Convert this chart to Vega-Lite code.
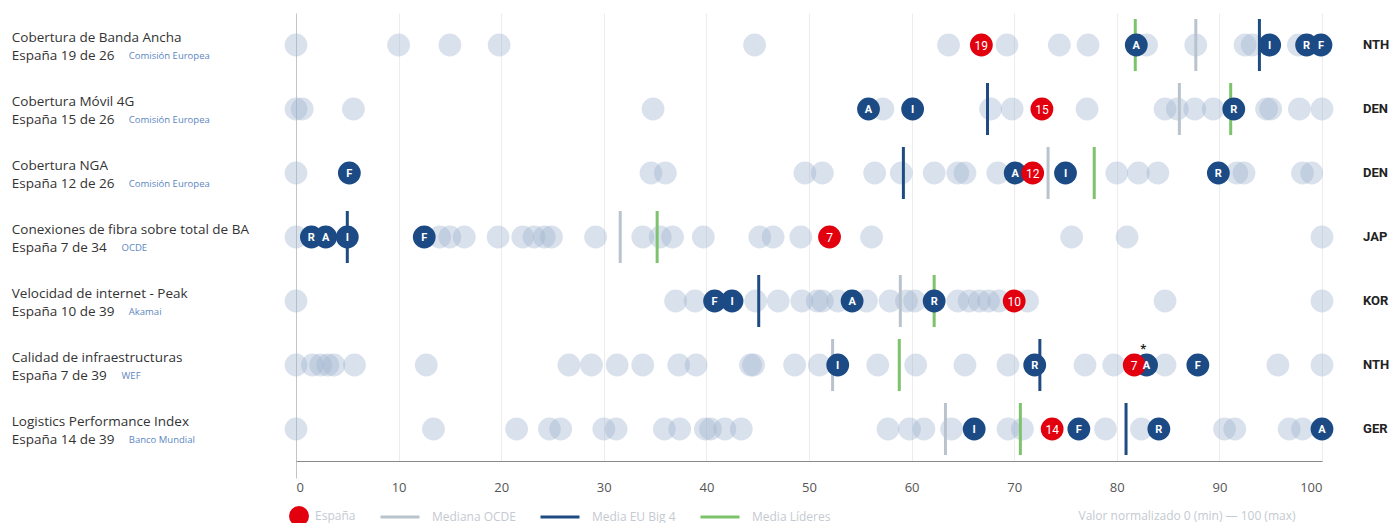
{
  "$schema": "https://vega.github.io/schema/vega-lite/v6.json",
  "width": 1026,
  "height": 448,
  "autosize": {"type": "none"},
  "padding": {"left": 296, "top": 13, "right": 73, "bottom": 62},
  "background": "white",
  "config": {"view": {"stroke": null}, "font": "Open Sans"},
  "datasets": {
    "dots": [
      {"r":"R1","v":0,"g":"o"},{"r":"R1","v":10,"g":"o"},{"r":"R1","v":15,"g":"o"},{"r":"R1","v":19.8,"g":"o"},{"r":"R1","v":44.7,"g":"o"},{"r":"R1","v":63.6,"g":"o"},{"r":"R1","v":69.3,"g":"o"},{"r":"R1","v":74.4,"g":"o"},{"r":"R1","v":77.2,"g":"o"},{"r":"R1","v":82.9,"g":"o"},{"r":"R1","v":87.7,"g":"o"},{"r":"R1","v":92.5,"g":"o"},{"r":"R1","v":93.2,"g":"o"},{"r":"R1","v":97.7,"g":"o"},
      {"r":"R1","v":81.9,"g":"b","t":"A"},{"r":"R1","v":94.9,"g":"b","t":"I"},{"r":"R1","v":98.5,"g":"b","t":"R"},{"r":"R1","v":99.9,"g":"b","t":"F"},{"r":"R1","v":66.8,"g":"e","t":"19"},
      {"r":"R2","v":0,"g":"o"},{"r":"R2","v":0.6,"g":"o"},{"r":"R2","v":5.6,"g":"o"},{"r":"R2","v":34.8,"g":"o"},{"r":"R2","v":57.2,"g":"o"},{"r":"R2","v":67.7,"g":"o"},{"r":"R2","v":69.8,"g":"o"},{"r":"R2","v":77.1,"g":"o"},{"r":"R2","v":84.7,"g":"o"},{"r":"R2","v":85.9,"g":"o"},{"r":"R2","v":87.6,"g":"o"},{"r":"R2","v":89.4,"g":"o"},{"r":"R2","v":94.6,"g":"o"},{"r":"R2","v":95.0,"g":"o"},{"r":"R2","v":97.8,"g":"o"},{"r":"R2","v":100,"g":"o"},
      {"r":"R2","v":55.8,"g":"b","t":"A"},{"r":"R2","v":60.1,"g":"b","t":"I"},{"r":"R2","v":91.4,"g":"b","t":"R"},{"r":"R2","v":72.7,"g":"e","t":"15"},
      {"r":"R3","v":0,"g":"o"},{"r":"R3","v":34.6,"g":"o"},{"r":"R3","v":36.0,"g":"o"},{"r":"R3","v":49.6,"g":"o"},{"r":"R3","v":51.3,"g":"o"},{"r":"R3","v":56.4,"g":"o"},{"r":"R3","v":59.0,"g":"o"},{"r":"R3","v":62.2,"g":"o"},{"r":"R3","v":64.5,"g":"o"},{"r":"R3","v":65.2,"g":"o"},{"r":"R3","v":68.4,"g":"o"},{"r":"R3","v":80.0,"g":"o"},{"r":"R3","v":82.1,"g":"o"},{"r":"R3","v":84.0,"g":"o"},{"r":"R3","v":91.7,"g":"o"},{"r":"R3","v":92.4,"g":"o"},{"r":"R3","v":98.1,"g":"o"},{"r":"R3","v":99.0,"g":"o"},
      {"r":"R3","v":5.2,"g":"b","t":"F"},{"r":"R3","v":70.1,"g":"b","t":"A"},{"r":"R3","v":75.0,"g":"b","t":"I"},{"r":"R3","v":89.9,"g":"b","t":"R"},{"r":"R3","v":71.8,"g":"e","t":"12"},
      {"r":"R4","v":0,"g":"o"},{"r":"R4","v":14.0,"g":"o"},{"r":"R4","v":15.0,"g":"o"},{"r":"R4","v":16.4,"g":"o"},{"r":"R4","v":19.7,"g":"o"},{"r":"R4","v":22.1,"g":"o"},{"r":"R4","v":23.2,"g":"o"},{"r":"R4","v":24.2,"g":"o"},{"r":"R4","v":24.9,"g":"o"},{"r":"R4","v":29.2,"g":"o"},{"r":"R4","v":33.8,"g":"o"},{"r":"R4","v":35.5,"g":"o"},{"r":"R4","v":36.7,"g":"o"},{"r":"R4","v":39.7,"g":"o"},{"r":"R4","v":45.2,"g":"o"},{"r":"R4","v":46.5,"g":"o"},{"r":"R4","v":49.2,"g":"o"},{"r":"R4","v":56.1,"g":"o"},{"r":"R4","v":75.6,"g":"o"},{"r":"R4","v":81.0,"g":"o"},{"r":"R4","v":100,"g":"o"},
      {"r":"R4","v":1.5,"g":"b","t":"R"},{"r":"R4","v":2.9,"g":"b","t":"A"},{"r":"R4","v":5.0,"g":"b","t":"I"},{"r":"R4","v":12.5,"g":"b","t":"F"},{"r":"R4","v":52.0,"g":"e","t":"7"},
      {"r":"R5","v":0,"g":"o"},{"r":"R5","v":37.0,"g":"o"},{"r":"R5","v":38.9,"g":"o"},{"r":"R5","v":44.8,"g":"o"},{"r":"R5","v":47.0,"g":"o"},{"r":"R5","v":49.3,"g":"o"},{"r":"R5","v":50.8,"g":"o"},{"r":"R5","v":51.3,"g":"o"},{"r":"R5","v":52.8,"g":"o"},{"r":"R5","v":55.6,"g":"o"},{"r":"R5","v":57.9,"g":"o"},{"r":"R5","v":59.5,"g":"o"},{"r":"R5","v":60.3,"g":"o"},{"r":"R5","v":64.5,"g":"o"},{"r":"R5","v":65.6,"g":"o"},{"r":"R5","v":66.6,"g":"o"},{"r":"R5","v":67.5,"g":"o"},{"r":"R5","v":68.5,"g":"o"},{"r":"R5","v":71.3,"g":"o"},{"r":"R5","v":84.7,"g":"o"},{"r":"R5","v":100,"g":"o"},
      {"r":"R5","v":40.8,"g":"b","t":"F"},{"r":"R5","v":42.5,"g":"b","t":"I"},{"r":"R5","v":54.2,"g":"b","t":"A"},{"r":"R5","v":62.2,"g":"b","t":"R"},{"r":"R5","v":70.0,"g":"e","t":"10"},
      {"r":"R6","v":0,"g":"o"},{"r":"R6","v":1.6,"g":"o"},{"r":"R6","v":2.4,"g":"o"},{"r":"R6","v":3.1,"g":"o"},{"r":"R6","v":3.7,"g":"o"},{"r":"R6","v":5.7,"g":"o"},{"r":"R6","v":12.7,"g":"o"},{"r":"R6","v":26.6,"g":"o"},{"r":"R6","v":28.8,"g":"o"},{"r":"R6","v":31.3,"g":"o"},{"r":"R6","v":33.8,"g":"o"},{"r":"R6","v":37.3,"g":"o"},{"r":"R6","v":39.0,"g":"o"},{"r":"R6","v":44.3,"g":"o"},{"r":"R6","v":44.6,"g":"o"},{"r":"R6","v":48.6,"g":"o"},{"r":"R6","v":51.0,"g":"o"},{"r":"R6","v":56.7,"g":"o"},{"r":"R6","v":60.4,"g":"o"},{"r":"R6","v":65.2,"g":"o"},{"r":"R6","v":69.4,"g":"o"},{"r":"R6","v":76.9,"g":"o"},{"r":"R6","v":79.7,"g":"o"},{"r":"R6","v":84.7,"g":"o"},{"r":"R6","v":95.7,"g":"o"},{"r":"R6","v":100,"g":"o"},
      {"r":"R6","v":52.8,"g":"b","t":"I"},{"r":"R6","v":72.0,"g":"b","t":"R"},{"r":"R6","v":82.9,"g":"b","t":"A"},{"r":"R6","v":87.9,"g":"b","t":"F"},{"r":"R6","v":81.7,"g":"e","t":"7","note":"*"},
      {"r":"R7","v":0,"g":"o"},{"r":"R7","v":13.4,"g":"o"},{"r":"R7","v":21.5,"g":"o"},{"r":"R7","v":24.7,"g":"o"},{"r":"R7","v":25.8,"g":"o"},{"r":"R7","v":30.0,"g":"o"},{"r":"R7","v":31.2,"g":"o"},{"r":"R7","v":35.9,"g":"o"},{"r":"R7","v":37.4,"g":"o"},{"r":"R7","v":39.9,"g":"o"},{"r":"R7","v":40.4,"g":"o"},{"r":"R7","v":41.8,"g":"o"},{"r":"R7","v":43.4,"g":"o"},{"r":"R7","v":57.7,"g":"o"},{"r":"R7","v":59.8,"g":"o"},{"r":"R7","v":61.2,"g":"o"},{"r":"R7","v":63.9,"g":"o"},{"r":"R7","v":69.4,"g":"o"},{"r":"R7","v":70.8,"g":"o"},{"r":"R7","v":78.9,"g":"o"},{"r":"R7","v":82.4,"g":"o"},{"r":"R7","v":90.5,"g":"o"},{"r":"R7","v":91.5,"g":"o"},{"r":"R7","v":96.8,"g":"o"},{"r":"R7","v":98.1,"g":"o"},
      {"r":"R7","v":66.1,"g":"b","t":"I"},{"r":"R7","v":76.3,"g":"b","t":"F"},{"r":"R7","v":84.1,"g":"b","t":"R"},{"r":"R7","v":100,"g":"b","t":"A"},{"r":"R7","v":73.7,"g":"e","t":"14"}
    ],
    "rules": [
      {"r":"R1","v":87.7,"kind":"Mediana OCDE"},{"r":"R1","v":93.9,"kind":"Media EU Big 4"},{"r":"R1","v":81.8,"kind":"Media Líderes"},
      {"r":"R2","v":86.1,"kind":"Mediana OCDE"},{"r":"R2","v":67.4,"kind":"Media EU Big 4"},{"r":"R2","v":91.1,"kind":"Media Líderes"},
      {"r":"R3","v":73.3,"kind":"Mediana OCDE"},{"r":"R3","v":59.2,"kind":"Media EU Big 4"},{"r":"R3","v":77.8,"kind":"Media Líderes"},
      {"r":"R4","v":31.6,"kind":"Mediana OCDE"},{"r":"R4","v":5.0,"kind":"Media EU Big 4"},{"r":"R4","v":35.2,"kind":"Media Líderes"},
      {"r":"R5","v":58.9,"kind":"Mediana OCDE"},{"r":"R5","v":45.1,"kind":"Media EU Big 4"},{"r":"R5","v":62.2,"kind":"Media Líderes"},
      {"r":"R6","v":52.3,"kind":"Mediana OCDE"},{"r":"R6","v":72.5,"kind":"Media EU Big 4"},{"r":"R6","v":58.8,"kind":"Media Líderes"},
      {"r":"R7","v":63.3,"kind":"Mediana OCDE"},{"r":"R7","v":80.9,"kind":"Media EU Big 4"},{"r":"R7","v":70.6,"kind":"Media Líderes"}
    ],
    "labels": [
      {"r":"R1","title":"Cobertura de Banda Ancha","sub":"España 19 de 26","src":"Comisión Europea","cc":"NTH"},
      {"r":"R2","title":"Cobertura Móvil 4G","sub":"España 15 de 26","src":"Comisión Europea","cc":"DEN"},
      {"r":"R3","title":"Cobertura NGA","sub":"España 12 de 26","src":"Comisión Europea","cc":"DEN"},
      {"r":"R4","title":"Conexiones de fibra sobre total de BA","sub":"España 7 de 34","src":"OCDE","cc":"JAP"},
      {"r":"R5","title":"Velocidad de internet - Peak","sub":"España 10 de 39","src":"Akamai","cc":"KOR"},
      {"r":"R6","title":"Calidad de infraestructuras","sub":"España 7 de 39","src":"WEF","cc":"NTH"},
      {"r":"R7","title":"Logistics Performance Index","sub":"España 14 de 39","src":"Banco Mundial","cc":"GER"}
    ]
  },
  "encoding": {
    "y": {"field": "r", "type": "nominal", "axis": null,
          "scale": {"domain": ["R1","R2","R3","R4","R5","R6","R7"], "paddingInner": 0, "paddingOuter": 0}}
  },
  "layer": [
    {
      "data": {"name": "dots"},
      "transform": [{"filter": "datum.g === 'o'"}],
      "mark": {"type": "point", "filled": true, "size": 520, "color": "#9fb4cf", "opacity": 0.4},
      "encoding": {
        "x": {"field": "v", "type": "quantitative",
              "scale": {"domain": [0, 100], "nice": false, "zero": false},
              "axis": {
                "values": [0,10,20,30,40,50,60,70,80,90,100],
                "labelFontSize": 13, "labelColor": "#555", "labelFont": "Open Sans",
                "labelPadding": 3,
                "tickSize": 17, "tickWidth": 1,
                "tickColor": {"condition": {"test": "datum.value === 0", "value": "#c4c4c4"}, "value": "transparent"},
                "grid": true,
                "gridColor": {"condition": {"test": "datum.value === 0", "value": "#c4c4c4"}, "value": "#ececec"},
                "domainColor": "#8a8a8a", "domainWidth": 1,
                "title": "Valor normalizado 0 (min) — 100 (max)",
                "titleFont": "Open Sans", "titleFontSize": 12, "titleFontWeight": "normal", "titleColor": "#c4cad1",
                "titleAlign": "right", "titleBaseline": "middle", "titleX": 999, "titleY": 54
              }}
      }
    },
    {
      "data": {"name": "rules"},
      "mark": {"type": "tick", "filled": false, "thickness": 1, "strokeWidth": 2, "size": 50, "orient": "vertical", "opacity": 1},
      "encoding": {
        "x": {"field": "v", "type": "quantitative"},
        "color": {"field": "kind", "type": "nominal",
          "scale": {"domain": ["Mediana OCDE","Media EU Big 4","Media Líderes"],
                    "range": ["#b9c3ce","#1f4b82","#7cc36b"]},
          "legend": {
            "orient": "none", "legendX": 83, "legendY": 483, "direction": "horizontal",
            "title": null, "padding": 0,
            "symbolType": "stroke", "symbolSize": 1521, "symbolStrokeWidth": 3, "symbolOpacity": 1,
            "labelOffset": 11, "columnPadding": 18,
            "labelFont": "Open Sans", "labelFontSize": 12, "labelColor": "#c4cad1"
          }}
      }
    },
    {
      "data": {"name": "dots"},
      "transform": [{"filter": "datum.g === 'b'"}],
      "mark": {"type": "point", "filled": true, "size": 520, "color": "#1c4a84", "opacity": 1},
      "encoding": {"x": {"field": "v", "type": "quantitative"}}
    },
    {
      "data": {"name": "dots"},
      "transform": [{"filter": "datum.g === 'e'"}],
      "mark": {"type": "point", "filled": true, "size": 520, "color": "#e2000f", "opacity": 1},
      "encoding": {
        "x": {"field": "v", "type": "quantitative"},
        "shape": {"datum": "España", "scale": {"domain": ["España"], "range": ["circle"]},
          "legend": {
            "orient": "none", "legendX": -7, "legendY": 493, "direction": "horizontal",
            "title": null, "padding": 0,
            "symbolSize": 400, "symbolFillColor": "#e2000f", "symbolStrokeColor": "#e2000f", "symbolStrokeWidth": 0, "symbolOpacity": 1,
            "labelOffset": 6,
            "labelFont": "Open Sans", "labelFontSize": 12, "labelColor": "#c4cad1"
          }}
      }
    },
    {
      "data": {"name": "dots"},
      "transform": [{"filter": "datum.g === 'b'"}],
      "mark": {"type": "text", "color": "white", "font": "Roboto", "fontSize": 11, "fontWeight": "bold", "align": "center", "baseline": "middle", "dy": 0.5},
      "encoding": {"x": {"field": "v", "type": "quantitative"}, "text": {"field": "t"}}
    },
    {
      "data": {"name": "dots"},
      "transform": [{"filter": "datum.g === 'e'"}],
      "mark": {"type": "text", "color": "white", "font": "Roboto", "fontSize": 12, "align": "center", "baseline": "middle", "dy": 0.5},
      "encoding": {"x": {"field": "v", "type": "quantitative"}, "text": {"field": "t"}}
    },
    {
      "data": {"name": "dots"},
      "transform": [{"filter": "isValid(datum.note)"}],
      "mark": {"type": "text", "color": "#222", "font": "Roboto", "fontSize": 13, "fontWeight": "bold", "align": "center", "baseline": "middle", "dx": 9, "dy": -16},
      "encoding": {"x": {"field": "v", "type": "quantitative"}, "text": {"field": "note"}}
    },
    {
      "data": {"name": "labels"},
      "mark": {"type": "text", "align": "left", "baseline": "middle", "font": "Open Sans", "fontSize": 13.5, "color": "#333", "dy": -7},
      "encoding": {"x": {"datum": -27.7}, "text": {"field": "title"}}
    },
    {
      "data": {"name": "labels"},
      "mark": {"type": "text", "align": "left", "baseline": "middle", "font": "Open Sans", "fontSize": 13.5, "color": "#333", "dy": 11},
      "encoding": {"x": {"datum": -27.7}, "text": {"field": "sub"}}
    },
    {
      "data": {"name": "labels"},
      "transform": [{"calculate": "-27.7 + (length(datum.sub) * 7.2 + 9) / 10.26", "as": "srcx"}],
      "mark": {"type": "text", "align": "left", "baseline": "middle", "font": "Open Sans", "fontSize": 9.5, "color": "#5b87c2", "dy": 11},
      "encoding": {"x": {"field": "srcx", "type": "quantitative"}, "text": {"field": "src"}}
    },
    {
      "data": {"name": "labels"},
      "mark": {"type": "text", "align": "left", "baseline": "middle", "font": "Roboto", "fontSize": 13, "fontWeight": "bold", "color": "#222"},
      "encoding": {"x": {"datum": 104}, "text": {"field": "cc"}}
    }
  ]
}
